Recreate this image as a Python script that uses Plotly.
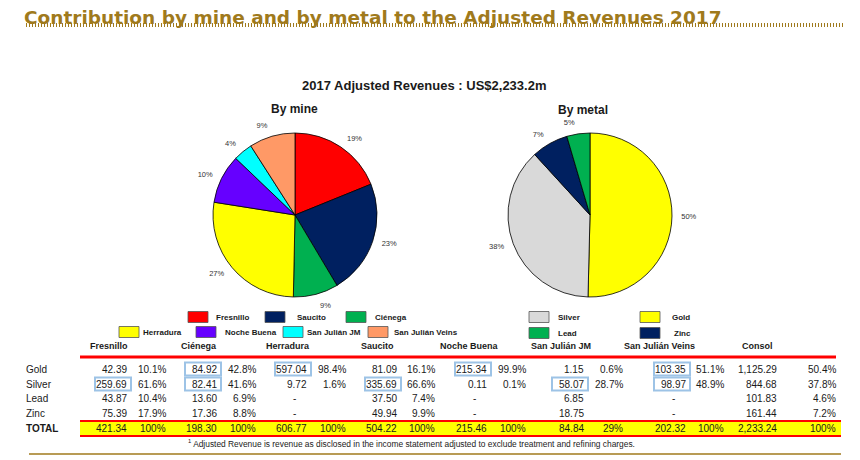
import plotly.graph_objects as go

# the page body adds an 8px offset, so the figure is drawn 8px smaller
OFF = 8
W, H = 860 - OFF, 460 - OFF

# ---------------------------------------------------------------------------
# Data
# ---------------------------------------------------------------------------
mine_labels = ['Fresnillo', 'Saucito', 'Ciénega', 'Herradura',
               'Noche Buena', 'San Julián JM', 'San Julián Veins']
mine_revenue = [421.34, 504.22, 198.30, 606.77, 215.46, 84.84, 202.32]
mine_colors = ['#FF0000', '#002060', '#00B050', '#FFFF00',
               '#6600FF', '#00FFFF', '#FF9966']

metal_labels = ['Gold', 'Silver', 'Zinc', 'Lead']
metal_revenue = [1125.29, 844.68, 161.44, 101.83]
metal_colors = ['#FFFF00', '#D9D9D9', '#002060', '#00B050']

table_cols = ['Fresnillo', 'Ciénega', 'Herradura', 'Saucito', 'Noche Buena',
              'San Julián JM', 'San Julián Veins', 'Consol']
table_rows = ['Gold', 'Silver', 'Lead', 'Zinc', 'TOTAL']
gold_m = [42.39, 84.92, 597.04, 81.09, 215.34, 1.15, 103.35, 1125.29]
gold_pct = ['10.1%', '42.8%', '98.4%', '16.1%', '99.9%', '0.6%', '51.1%', '50.4%']
silver_m = [259.69, 82.41, 9.72, 335.69, 0.11, 58.07, 98.97, 844.68]
silver_pct = ['61.6%', '41.6%', '1.6%', '66.6%', '0.1%', '28.7%', '48.9%', '37.8%']
lead_m = [43.87, 13.60, None, 37.50, None, 6.85, None, 101.83]
lead_pct = ['10.4%', '6.9%', '', '7.4%', '', '', '', '4.6%']
zinc_m = [75.39, 17.36, None, 49.94, None, 18.75, None, 161.44]
zinc_pct = ['17.9%', '8.8%', '', '9.9%', '', '', '', '7.2%']
total_m = [421.34, 198.30, 606.77, 504.22, 215.46, 84.84, 202.32, 2233.24]
total_pct = ['100%', '100%', '100%', '100%', '100%', '29%', '100%', '100%']

# (row, col) cells outlined in blue
boxed = [(1, 0), (0, 1), (1, 1), (0, 2), (1, 3), (0, 4), (1, 5), (0, 6), (1, 6)]

title = 'Contribution by mine and by metal to the Adjusted Revenues 2017'
subtitle = '2017 Adjusted Revenues : US$2,233.2m'
footnote = ('<sup>1</sup> Adjusted Revenue is revenue as disclosed in the income '
            'statement adjusted to exclude treatment and refining charges.')

# ---------------------------------------------------------------------------
# Layout positions (page pixels)
# ---------------------------------------------------------------------------
GOLD = '#A07A1C'
FONT = 'Liberation Sans, Arial, sans-serif'

header_x = [88, 179, 264, 359, 438, 529, 622, 740]
val_right = [128, 218, 308, 398, 488, 585, 687, 778]
pct_right = [167, 257, 347, 436, 527, 624, 725, 837]
row_y = [369, 384, 398, 413, 428]

mine_legend_pos = [(188, 317, 214), (265, 317, 295), (346, 317, 373),
                   (119, 332, 141), (196, 332, 223), (283, 332, 305), (368, 332, 392)]
metal_legend_pos = {'Silver': (529, 317, 556), 'Gold': (640, 317, 670),
                    'Lead': (529, 333, 556), 'Zinc': (640, 333, 672)}

PIE_R = 82
LABEL_R = 89
mine_center = (295, 215)
metal_center = (590, 215)


def X(x):
    return (x - OFF) / W


def Y(y):
    return 1 - (y - OFF) / H


def _domain(center, r):
    cx, cy = center
    return dict(x=[X(cx - r), X(cx + r)], y=[Y(cy + r), Y(cy - r)])


def _text(x, y, text, size=10, bold=False, anchor='left', color='#1a1a1a', family=FONT):
    if bold:
        text = f'<b>{text}</b>'
    return dict(x=X(x), y=Y(y), xref='paper', yref='paper', text=text,
                showarrow=False, xanchor=anchor, yanchor='middle',
                font=dict(size=size, color=color, family=family))


def _line(x0, y0, x1, y1, color, width, dash='solid'):
    return dict(type='line', xref='paper', yref='paper',
                x0=X(x0), y0=Y(y0), x1=X(x1), y1=Y(y1),
                line=dict(color=color, width=width, dash=dash))


def _rect(x0, y0, x1, y1, fill, line_color, width=1):
    return dict(type='rect', xref='paper', yref='paper',
                x0=X(x0), y0=Y(y0), x1=X(x1), y1=Y(y1),
                fillcolor=fill, line=dict(color=line_color, width=width))


# ---------------------------------------------------------------------------
# Pies: a coloured pie plus a clear, slightly larger one carrying the labels
# ---------------------------------------------------------------------------
fig = go.Figure()

for labels, vals, colors, center in [(mine_labels, mine_revenue, mine_colors, mine_center),
                                     (metal_labels, metal_revenue, metal_colors, metal_center)]:
    fig.add_trace(go.Pie(
        labels=labels, values=vals, sort=False,
        direction='clockwise', rotation=0,
        marker=dict(colors=colors, line=dict(color='black', width=0.8)),
        textinfo='none',
        domain=_domain(center, PIE_R),
        showlegend=False,
    ))
    fig.add_trace(go.Pie(
        labels=labels, values=vals, sort=False,
        direction='clockwise', rotation=0,
        marker=dict(colors=['rgba(0,0,0,0)'] * len(vals), line=dict(width=0)),
        textposition='outside', texttemplate='%{percent:.0%}',
        textfont=dict(size=7.5, color='#333333', family=FONT),
        domain=_domain(center, LABEL_R),
        hoverinfo='skip', showlegend=False,
    ))

annotations = []
shapes = []

# Title block
title_ann = _text(23, 17.5, title, size=18.5, bold=True, color=GOLD,
                  family='DejaVu Sans, Verdana, sans-serif')
title_ann['borderpad'] = 0
annotations.append(title_ann)
shapes.append(_line(26, 25, 845, 25, GOLD, 4, dash='1px,2px'))
annotations.append(_text(424, 85, subtitle, size=13, bold=True, anchor='center'))
annotations.append(_text(294, 109, 'By mine', size=12, bold=True, anchor='center'))
annotations.append(_text(583, 110, 'By metal', size=12, bold=True, anchor='center'))

# Legends
for lab, col, (bx, by, tx) in zip(mine_labels, mine_colors, mine_legend_pos):
    shapes.append(_rect(bx, by - 5.5, bx + 20, by + 5.5, col, '#555555', 0.8))
    annotations.append(_text(tx, by, lab, size=8, bold=True))
for lab, col in zip(metal_labels, metal_colors):
    bx, by, tx = metal_legend_pos[lab]
    shapes.append(_rect(bx, by - 5.5, bx + 20, by + 5.5, col, '#555555', 0.8))
    annotations.append(_text(tx, by, lab, size=8, bold=True))

# Table header
for name, hx in zip(table_cols, header_x):
    annotations.append(_text(hx, 346, name, size=9, bold=True))
shapes.append(_line(80, 357, 836, 357, '#FF0000', 3))

# Total band
shapes.append(_rect(80, 421, 841, 436, '#FFFF00', 'rgba(0,0,0,0)', 0))
shapes.append(_line(80, 421, 841, 421, '#FF0000', 2))
shapes.append(_line(80, 436, 841, 436, '#FF0000', 2))

# Table body
values = [gold_m, silver_m, lead_m, zinc_m, total_m]
pcts = [gold_pct, silver_pct, lead_pct, zinc_pct, total_pct]
for r, (row_name, vals, ps) in enumerate(zip(table_rows, values, pcts)):
    y = row_y[r]
    annotations.append(_text(24, y, row_name, size=10, bold=(row_name == 'TOTAL')))
    for c, (v, p) in enumerate(zip(vals, ps)):
        if v is None:
            annotations.append(_text(val_right[c] - 14, y, '-', size=10, anchor='center'))
        else:
            annotations.append(_text(val_right[c] + 1, y, f'{v:,.2f}', size=10, anchor='right'))
        if p:
            annotations.append(_text(pct_right[c] + 1, y, p, size=10, anchor='right'))

for r, c in boxed:
    y = row_y[r]
    shapes.append(_rect(val_right[c] - 33, y - 6.5, val_right[c] + 3, y + 6.5,
                        'rgba(0,0,0,0)', '#9DC3E6', 2))

# Footnote and bottom rule
annotations.append(_text(186, 443, footnote, size=8.4))
shapes.append(_line(29, 454, 841, 454, GOLD, 1.5))

fig.update_layout(
    width=W, height=H,
    margin=dict(l=0, r=0, t=0, b=0),
    paper_bgcolor='white', plot_bgcolor='white',
    font=dict(family=FONT, color='#1a1a1a'),
    annotations=annotations,
    shapes=shapes,
    showlegend=False,
)

fig.write_html('out.html')
